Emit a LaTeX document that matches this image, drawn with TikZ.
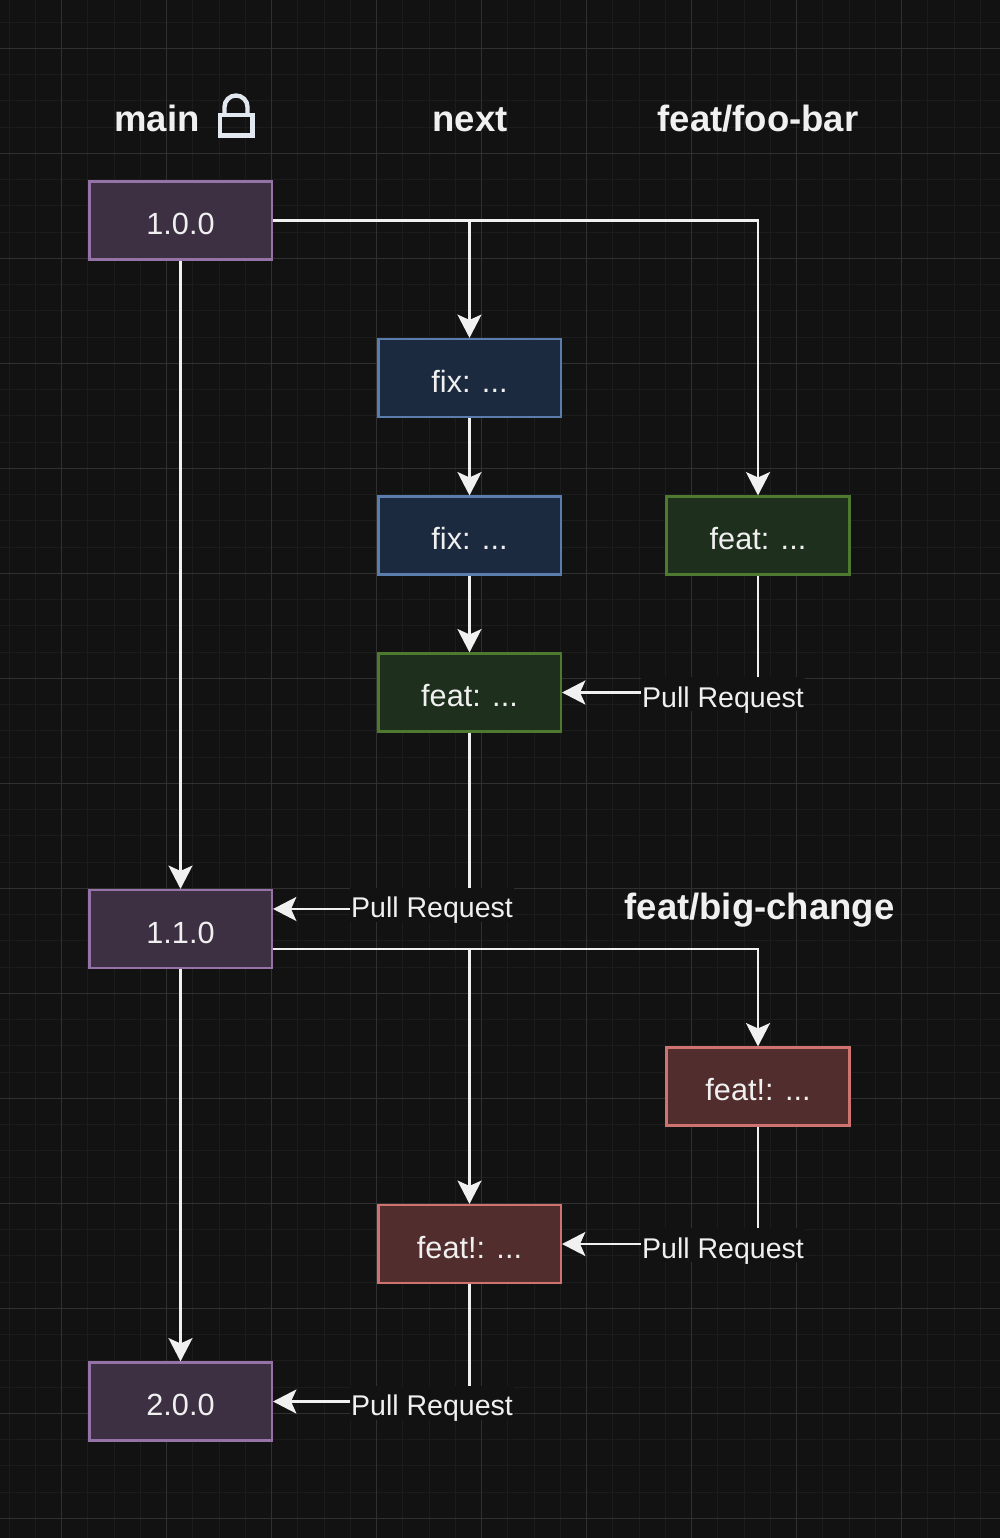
\documentclass[tikz,border=0pt]{standalone}
\usepackage{fontspec}
\setmainfont{Liberation Sans}
\usetikzlibrary{arrows.meta,calc}
\definecolor{bgc}{HTML}{121212}
\definecolor{majc}{HTML}{303030}
\definecolor{minc}{HTML}{1C1C1C}
\definecolor{edgec}{HTML}{F0F0F0}
\definecolor{lockc}{HTML}{E2E8F0}
\definecolor{pf}{HTML}{3D3042}\definecolor{pd}{HTML}{9673A6}
\definecolor{bf}{HTML}{1B2A3F}\definecolor{bd}{HTML}{5A7DAE}
\definecolor{gf}{HTML}{1F2F1E}\definecolor{gd}{HTML}{4D7A2E}
\definecolor{rf}{HTML}{522D2D}\definecolor{rd}{HTML}{CF7370}
\tikzset{
  box/.style={draw,line width=1.9pt,minimum width=136.9pt,minimum height=58.2pt,inner sep=0pt,font=\fontsize{23}{23}\selectfont,text=edgec,text height=21pt,text depth=0pt,anchor=center},
  purplebox/.style={box,fill=pf,draw=pd},
  bluebox/.style={box,fill=bf,draw=bd},
  greenbox/.style={box,fill=gf,draw=gd},
  redbox/.style={box,fill=rf,draw=rd},
  title/.style={font=\bfseries\fontsize{27.4}{27.4}\selectfont,text=edgec,inner sep=0pt},
  prlabel/.style={font=\fontsize{21.4}{21.4}\selectfont,text=edgec,fill=bgc,inner xsep=0.5pt,inner ysep=3pt,text height=19.5pt,text depth=0pt},
  conn/.style={draw=edgec,line width=1.9pt},
  arr/.style={conn,-{Stealth[length=17.5pt,width=18pt,inset=4pt]}},
}
\begin{document}
\begin{tikzpicture}[x=0.75pt,y=-0.75pt]
\useasboundingbox (0,0) rectangle (1000,1538);
\fill[bgc] (0,0) rectangle (1000,1538);
\foreach \i in {-3,...,39} {
  \draw[minc,line width=0.75pt] ({61.6+26.25*\i},0) -- ({61.6+26.25*\i},1538);
}
\foreach \i in {-2,...,58} {
  \draw[minc,line width=0.75pt] (0,{48.3+26.25*\i}) -- (1000,{48.3+26.25*\i});
}
\foreach \i in {0,...,9} {
  \draw[majc,line width=0.75pt] ({61.6+105*\i},0) -- ({61.6+105*\i},1538);
}
\foreach \i in {0,...,14} {
  \draw[majc,line width=0.75pt] (0,{48.3+105*\i}) -- (1000,{48.3+105*\i});
}
% titles
\node[title] (tmain) at (157,118) {main};
\node[title] (tnext) at (470,120) {next};
\node[title] (tfoo) at (758,119) {feat/foo-bar};
\node[title] (tbig) at (759.5,910) {feat/big-change};
% lock
\draw[lockc,line width=3.3pt] (220,115) rectangle (252.5,135.5);
\draw[lockc,line width=3.3pt] (224.5,115) -- (224.5,107) arc[start angle=180,end angle=0,x radius=11.5,y radius=-11.5] -- (247.5,115);
% boxes
\node[purplebox] (v100) at (180.5,220.5) {1.0.0};
\node[bluebox] (fix1) at (469.5,378) {fix: ...};
\node[bluebox] (fix2) at (469.5,535.5) {fix: ...};
\node[greenbox] (feat3) at (758,535.5) {feat: ...};
\node[greenbox] (feat2) at (469.5,692.5) {feat: ...};
\node[purplebox] (v110) at (180.5,929) {1.1.0};
\node[redbox] (brk2) at (758,1086.5) {feat!: ...};
\node[redbox] (brk1) at (469.5,1244) {feat!: ...};
\node[purplebox] (v200) at (180.5,1401.5) {2.0.0};
\coordinate (v110in) at ($(v110.north east)!0.25!(v110.south east)$);
\coordinate (v110out) at ($(v110.north east)!0.75!(v110.south east)$);
% connectors
\draw[arr] (v100.south) -- (v110.north);
\draw[arr] (v110.south) -- (v200.north);
\draw[arr] (v100.east) -| (fix1.north);
\draw[arr] (v100.east) -| (feat3.north);
\draw[arr] (fix1.south) -- (fix2.north);
\draw[arr] (fix2.south) -- (feat2.north);
\draw[arr] (v110out) -| (brk2.north);
\draw[arr] (v110out) -| (brk1.north);
\draw[arr] (feat3.south) |- (feat2.east);
\draw[arr] (feat2.south) |- (v110in);
\draw[arr] (brk2.south) |- (brk1.east);
\draw[arr] (brk1.south) |- (v200.east);
% labels
\node[prlabel] (pr1) at (723,694) {Pull Request};
\node[prlabel] (pr2) at (432,904.5) {Pull Request};
\node[prlabel] (pr3) at (723,1245) {Pull Request};
\node[prlabel] (pr4) at (432,1402.5) {Pull Request};
\end{tikzpicture}
\end{document}
